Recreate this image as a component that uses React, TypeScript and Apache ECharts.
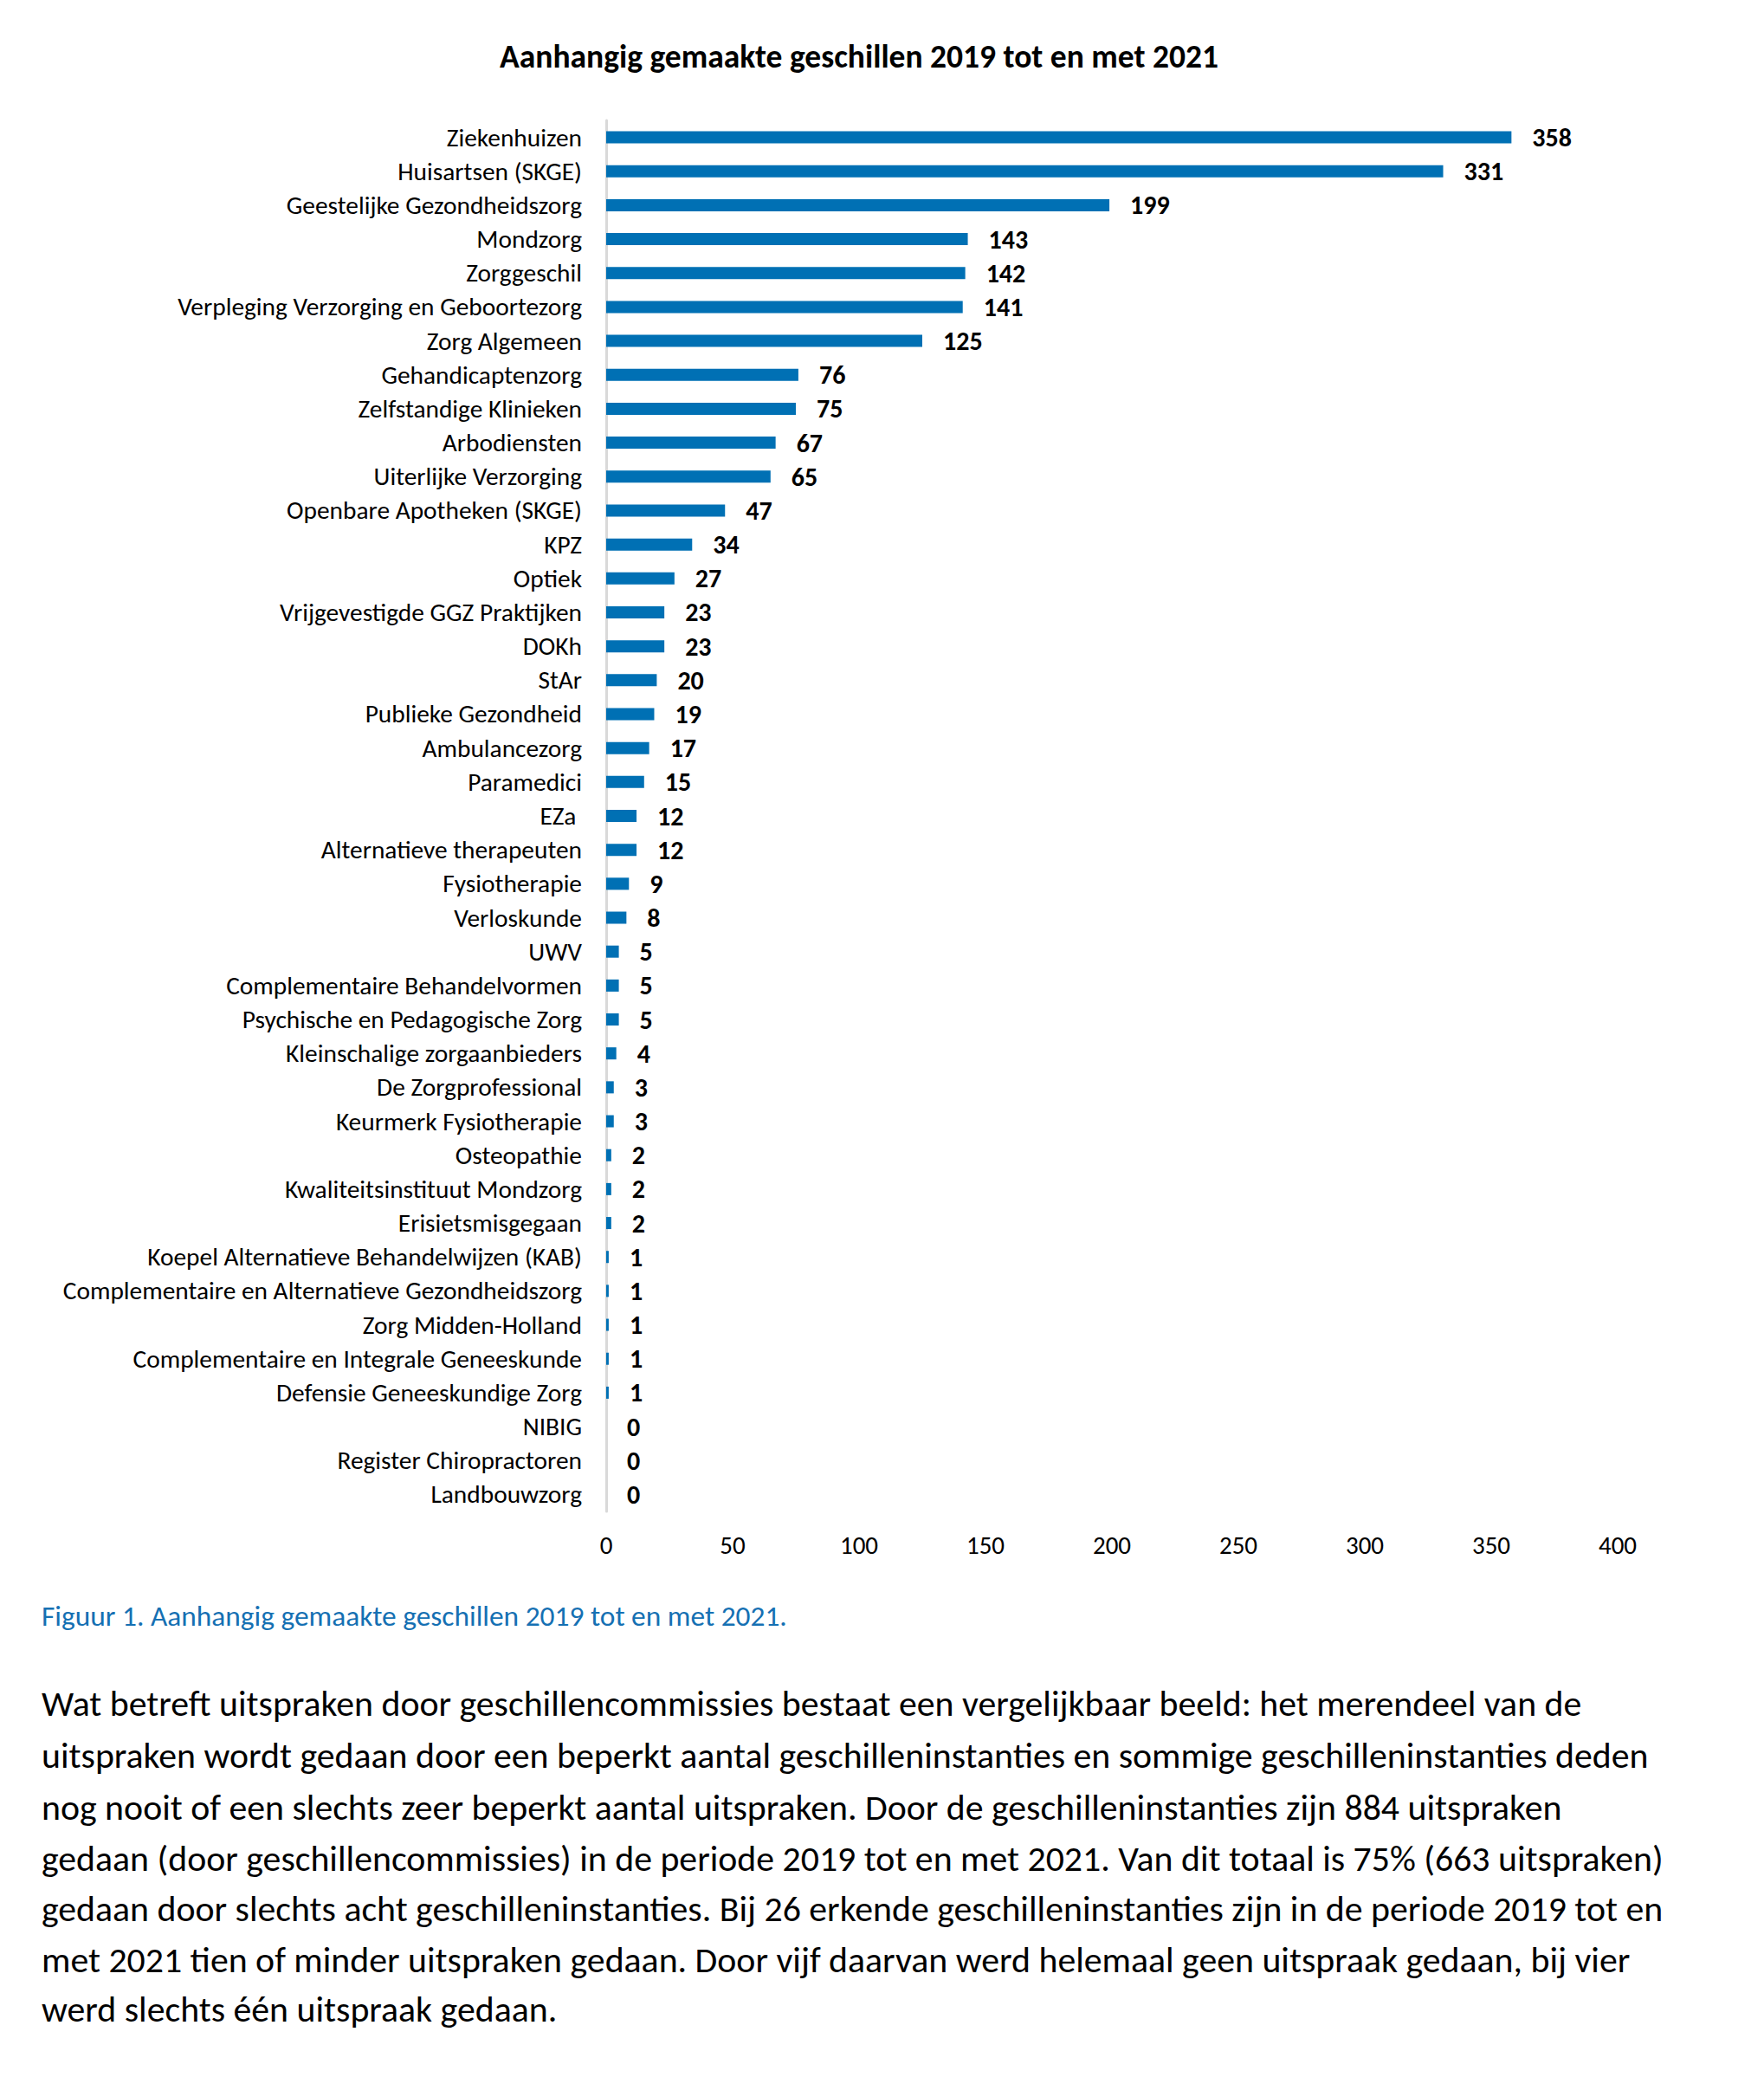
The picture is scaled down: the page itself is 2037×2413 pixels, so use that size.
import React, { useEffect, useRef } from "react";
import * as echarts from "echarts";

const categories = [
  "Ziekenhuizen",
  "Huisartsen (SKGE)",
  "Geestelijke Gezondheidszorg",
  "Mondzorg",
  "Zorggeschil",
  "Verpleging Verzorging en Geboortezorg",
  "Zorg Algemeen",
  "Gehandicaptenzorg",
  "Zelfstandige Klinieken",
  "Arbodiensten",
  "Uiterlijke Verzorging",
  "Openbare Apotheken (SKGE)",
  "KPZ",
  "Optiek",
  "Vrijgevestigde GGZ Praktijken",
  "DOKh",
  "StAr",
  "Publieke Gezondheid",
  "Ambulancezorg",
  "Paramedici",
  "EZa ",
  "Alternatieve therapeuten",
  "Fysiotherapie",
  "Verloskunde",
  "UWV",
  "Complementaire Behandelvormen",
  "Psychische en Pedagogische Zorg",
  "Kleinschalige zorgaanbieders",
  "De Zorgprofessional",
  "Keurmerk Fysiotherapie",
  "Osteopathie",
  "Kwaliteitsinstituut Mondzorg",
  "Erisietsmisgegaan",
  "Koepel Alternatieve Behandelwijzen (KAB)",
  "Complementaire en Alternatieve Gezondheidszorg",
  "Zorg Midden-Holland",
  "Complementaire en Integrale Geneeskunde",
  "Defensie Geneeskundige Zorg",
  "NIBIG",
  "Register Chiropractoren",
  "Landbouwzorg",
];

const values = [
  358, 331, 199, 143, 142, 141, 125, 76, 75, 67, 65, 47, 34, 27, 23, 23, 20, 19,
  17, 15, 12, 12, 9, 8, 5, 5, 5, 4, 3, 3, 2, 2, 2, 1, 1, 1, 1, 1, 0, 0, 0,
];

const titleText = "Aanhangig gemaakte geschillen 2019 tot en met 2021";
const captionText = "Figuur 1. Aanhangig gemaakte geschillen 2019 tot en met 2021.";
const paragraphLines = [
  "Wat betreft uitspraken door geschillencommissies bestaat een vergelijkbaar beeld: het merendeel van de",
  "uitspraken wordt gedaan door een beperkt aantal geschilleninstanties en sommige geschilleninstanties deden",
  "nog nooit of een slechts zeer beperkt aantal uitspraken. Door de geschilleninstanties zijn 884 uitspraken",
  "gedaan (door geschillencommissies) in de periode 2019 tot en met 2021. Van dit totaal is 75% (663 uitspraken)",
  "gedaan door slechts acht geschilleninstanties. Bij 26 erkende geschilleninstanties zijn in de periode 2019 tot en",
  "met 2021 tien of minder uitspraken gedaan. Door vijf daarvan werd helemaal geen uitspraak gedaan, bij vier",
  "werd slechts één uitspraak gedaan.",
];

const FONT = "Carlito, Lato, 'Noto Sans', sans-serif";

export default function App() {
  const ref = useRef<HTMLDivElement>(null);

  useEffect(() => {
    if (!ref.current) return;
    const chart = echarts.init(ref.current, undefined, { renderer: "svg" });
    const lineYs = [1966, 2026, 2086, 2145, 2203, 2262, 2319];
    const graphics: any[] = [
      {
        type: "text",
        x: 992,
        y: 65,
        style: {
          text: titleText,
          fontFamily: FONT,
          fontSize: 37.5,
          fontWeight: "bold",
          fill: "#000000",
          textAlign: "center",
          textVerticalAlign: "middle",
        },
      },
      {
        type: "text",
        x: 48,
        y: 1865,
        style: {
          text: captionText,
          fontFamily: FONT,
          fontSize: 33.4,
          fill: "#1570B3",
          textAlign: "left",
          textVerticalAlign: "middle",
        },
      },
      ...paragraphLines.map((t, i) => ({
        type: "text",
        x: 48,
        y: lineYs[i],
        style: {
          text: t,
          fontFamily: FONT,
          fontSize: 41.8,
          fill: "#000000",
          textAlign: "left",
          textVerticalAlign: "middle",
        },
      })),
    ];

    chart.setOption({
      animation: false,
      backgroundColor: "#ffffff",
      textStyle: { fontFamily: FONT },
      grid: {
        left: 700,
        right: 169,
        top: 139,
        height: 1606,
        containLabel: false,
        outerBoundsMode: "none",
      },
      xAxis: {
        type: "value",
        min: 0,
        max: 400,
        interval: 50,
        splitLine: { show: false },
        axisLine: { show: false },
        axisTick: { show: false },
        axisLabel: {
          fontFamily: FONT,
          fontSize: 29,
          color: "#000000",
          margin: 24,
        },
      },
      yAxis: {
        type: "category",
        inverse: true,
        data: categories,
        axisLine: { show: true, lineStyle: { color: "#D9D9D9", width: 3 } },
        axisTick: { show: false },
        axisLabel: {
          fontFamily: FONT,
          fontSize: 29.4,
          color: "#000000",
          margin: 28,
          interval: 0,
        },
      },
      series: [
        {
          type: "bar",
          data: values,
          barWidth: 14,
          itemStyle: { color: "#0070B4" },
          label: {
            show: true,
            position: "right",
            distance: 24,
            fontFamily: FONT,
            fontSize: 30,
            fontWeight: "bold",
            color: "#000000",
          },
        },
      ],
      graphic: graphics,
    });
    return () => chart.dispose();
  }, []);

  return (
    <div
      ref={ref}
      style={{ position: "absolute", left: 0, top: 0, width: 2037, height: 2413 }}
    />
  );
}
